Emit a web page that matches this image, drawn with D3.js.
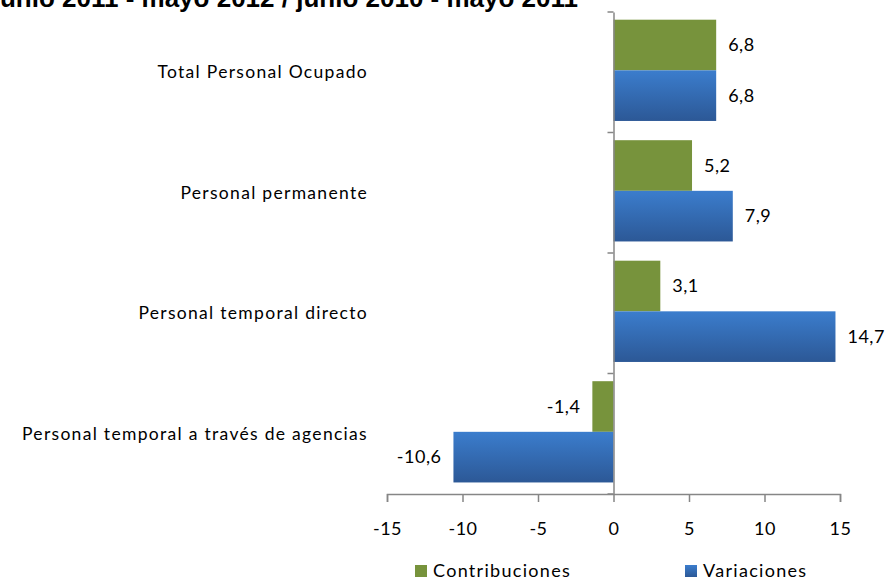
<!DOCTYPE html>
<html>
<head>
<meta charset="utf-8">
<script src="https://cdn.jsdelivr.net/npm/d3@7"></script>
<style>
  body { margin: 0; background: #fff; }
  svg text { font-family: Lato, "Open Sans", sans-serif; fill: #000; }
</style>
</head>
<body>
<div id="chart"></div>
<script>
// categories, top to bottom
const categories = [
  "Total Personal Ocupado",
  "Personal permanente",
  "Personal temporal directo",
  "Personal temporal a través de agencias"
];
const seriesNames = ["Contribuciones", "Variaciones"];
const contribuciones = [6.8, 5.2, 3.1, -1.4];
const variaciones = [6.8, 7.9, 14.7, -10.6];
const xTicks = [-15, -10, -5, 0, 5, 10, 15];
const title = "Junio 2011 - mayo 2012 / junio 2010 - mayo 2011";

const width = 888, height = 582;

var svg = d3.select("#chart").append("svg")
  .attr("width", width)
  .attr("height", height);

// gradient for the blue bars
var defs = svg.append("defs");
var grad = defs.append("linearGradient")
  .attr("id", "blueGrad")
  .attr("x1", 0).attr("y1", 0).attr("x2", 0).attr("y2", 1);
grad.append("stop").attr("offset", "0%").attr("stop-color", "#3b7dcd");
grad.append("stop").attr("offset", "100%").attr("stop-color", "#2c5896");

var colors = ["#77933c", "url(#blueGrad)"];
var fmt = v => d3.format(".1f")(v).replace(".", ",").replace("\u2212", "-");

// title, clipped at the top as in the original
svg.append("text")
  .attr("x", 578)
  .attr("y", 7)
  .attr("text-anchor", "end")
  .style("font-family", "Arial, 'Liberation Sans', sans-serif")
  .style("font-weight", "bold")
  .style("font-size", "26px")
  .text(title);

var x = d3.scaleLinear().domain([-15, 15]).range([387, 840]);
var y = d3.scaleBand().domain(categories).range([12, 494]);
var inner = d3.scaleBand().domain(seriesNames)
  .range([0, y.bandwidth()])
  .paddingOuter(0.19)
  .align(0.4);

// bars
var rows = categories.map((c, i) => ({cat: c, vals: [contribuciones[i], variaciones[i]]}));

var groups = svg.selectAll("g.row")
  .data(rows)
  .enter()
  .append("g")
  .attr("class", "row")
  .attr("transform", d => "translate(0," + y(d.cat) + ")");

groups.selectAll("rect")
  .data(d => d.vals.map((v, j) => ({v: v, s: seriesNames[j], j: j})))
  .enter()
  .append("rect")
  .attr("x", d => x(Math.min(0, d.v)))
  .attr("y", d => inner(d.s))
  .attr("width", d => Math.abs(x(d.v) - x(0)))
  .attr("height", inner.bandwidth())
  .style("fill", d => colors[d.j]);

// value labels
groups.selectAll("text.val")
  .data(d => d.vals.map((v, j) => ({v: v, s: seriesNames[j]})))
  .enter()
  .append("text")
  .attr("class", "val")
  .attr("x", d => d.v >= 0 ? x(d.v) + 12 : x(d.v) - 12)
  .attr("y", d => inner(d.s) + inner.bandwidth() / 2)
  .attr("dy", "0.35em")
  .attr("text-anchor", d => d.v >= 0 ? "start" : "end")
  .style("font-size", "18px")
  .style("letter-spacing", "0.5px")
  .text(d => fmt(d.v));

// x axis
var xAxis = d3.axisBottom(x)
  .tickValues(xTicks)
  .tickSize(8)
  .tickPadding(20)
  .tickFormat(d => String(d));
var gx = svg.append("g")
  .attr("transform", "translate(0,494)")
  .call(xAxis);
gx.select(".domain").attr("stroke", "#868686").attr("stroke-width", 1.5);
gx.selectAll(".tick line").attr("stroke", "#868686").attr("stroke-width", 1.5);
gx.selectAll(".tick text")
  .style("font-size", "18px")
  .style("letter-spacing", "0.5px")
  .style("font-family", "Lato, sans-serif");

// y axis at zero
var yAxis = d3.axisLeft(y).tickSize(0).tickFormat("");
var gy = svg.append("g")
  .attr("transform", "translate(" + x(0) + ",0)")
  .call(yAxis);
gy.select(".domain").attr("stroke", "#868686").attr("stroke-width", 1.5);

// category boundary ticks
var boundaries = categories.map(c => y(c)).concat([y.range()[1]]);
gy.selectAll("line.bound")
  .data(boundaries)
  .enter()
  .append("line")
  .attr("class", "bound")
  .attr("x1", -6).attr("x2", 0)
  .attr("y1", d => d).attr("y2", d => d)
  .attr("stroke", "#868686")
  .attr("stroke-width", 1.5);

// category labels
svg.selectAll("text.cat")
  .data(categories)
  .enter()
  .append("text")
  .attr("class", "cat")
  .attr("x", 368)
  .attr("y", d => y(d) + y.bandwidth() / 2)
  .attr("dy", "0.35em")
  .attr("text-anchor", "end")
  .style("font-size", "17.5px")
  .style("letter-spacing", "1.3px")
  .text(d => d);

// legend
var legendX = [415, 685];
var legend = svg.selectAll("g.legend")
  .data(seriesNames)
  .enter()
  .append("g")
  .attr("class", "legend")
  .attr("transform", (d, i) => "translate(" + legendX[i] + ",565)");
legend.append("rect")
  .attr("width", 12).attr("height", 12)
  .style("fill", (d, i) => colors[i]);
legend.append("text")
  .attr("x", 18)
  .attr("y", 12)
  .style("font-size", "18px")
  .style("letter-spacing", "1.3px")
  .text(d => d);
</script>
</body>
</html>
